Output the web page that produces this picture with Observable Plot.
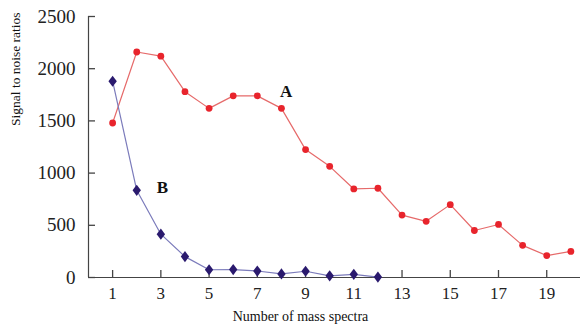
<!DOCTYPE html>
<html>
<head>
<meta charset="utf-8">
<script src="https://cdn.jsdelivr.net/npm/d3@7"></script>
<script src="https://cdn.jsdelivr.net/npm/@observablehq/plot@0.6"></script>
<style>
  html, body { margin: 0; padding: 0; background: #fff; }
  #chart { width: 580px; height: 327px; }
</style>
</head>
<body>
<div id="chart"></div>
<script>
const spectraA = [1,2,3,4,5,6,7,8,9,10,11,12,13,14,15,16,17,18,19,20];
const valuesA = [1480,2160,2120,1780,1620,1740,1740,1620,1225,1065,848,855,598,538,698,450,508,308,210,250];
const spectraB = [1,2,3,4,5,6,7,8,9,10,11,12];
const valuesB = [1880,835,415,200,74,76,62,34,60,16,30,4];
const xTicks = [1,3,5,7,9,11,13,15,17,19];
const yTicks = [0,500,1000,1500,2000,2500];
const seriesLabels = [{text: "A", x: 8.2, y: 1785}, {text: "B", x: 3.07, y: 860}];
const xTitle = "Number of mass spectra";
const yTitle = "Signal to noise ratios";

const A = spectraA.map((x, i) => ({x, y: valuesA[i]}));
const B = spectraB.map((x, i) => ({x, y: valuesB[i]}));

const tallDiamond = {
  draw(context) {
    const w = 4.2, h = 5.6;
    context.moveTo(0, -h);
    context.lineTo(w, 0);
    context.lineTo(0, h);
    context.lineTo(-w, 0);
    context.closePath();
  }
};

const W = 580, H = 327, ML = 88, MR = 0, MT = 16, MB = 50;
const X_MAX = 20.4;
const axisColor = "#444";

const chart = Plot.plot({
  width: W,
  height: H,
  marginLeft: ML,
  marginRight: MR,
  marginTop: MT,
  marginBottom: MB,
  x: {domain: [0, X_MAX]},
  y: {domain: [0, 2500]},
  style: {fontFamily: "Liberation Serif, serif", background: "#fff", color: "#222"},
  marks: [
    Plot.axisX(xTicks, {tickSize: 0, tickPadding: 9, fontSize: 17, label: null, tickFormat: d => String(d)}),
    Plot.axisY(yTicks, {tickSize: 0, tickPadding: 13, fontSize: 19, label: null, tickFormat: d => String(d)}),
    Plot.axisY(yTicks, {tickSize: -7, tickPadding: 0, label: null, tickFormat: () => "", stroke: axisColor, strokeWidth: 1.3}),
    Plot.tickX(xTicks, {x: d => d, insetTop: H - MT - MB - 7, stroke: axisColor, strokeWidth: 1.3}),
    Plot.ruleX([0], {stroke: axisColor, strokeWidth: 1.2}),
    Plot.ruleY([0], {stroke: axisColor, strokeWidth: 1.2}),
    Plot.line(A, {x: "x", y: "y", stroke: "#e66a6a", strokeWidth: 1.2}),
    Plot.dot(A, {x: "x", y: "y", r: 3.4, fill: "#e8242c", stroke: "none"}),
    Plot.line(B, {x: "x", y: "y", stroke: "#7b7bbb", strokeWidth: 1.2}),
    Plot.dot(B, {x: "x", y: "y", symbol: tallDiamond, fill: "#2a1a6e", stroke: "none"}),
    Plot.text(seriesLabels, {x: "x", y: "y", text: "text", fontSize: 17, fontWeight: "bold", fill: "#111"}),
    Plot.text([xTitle], {frameAnchor: "bottom", dx: -34, dy: 43, fontSize: 14, fill: "#111"}),
    Plot.text([yTitle], {frameAnchor: "left", rotate: -90, dx: -73, dy: -21, fontSize: 13.5, fill: "#111"})
  ]
});
document.getElementById("chart").appendChild(chart);
</script>
</body>
</html>
